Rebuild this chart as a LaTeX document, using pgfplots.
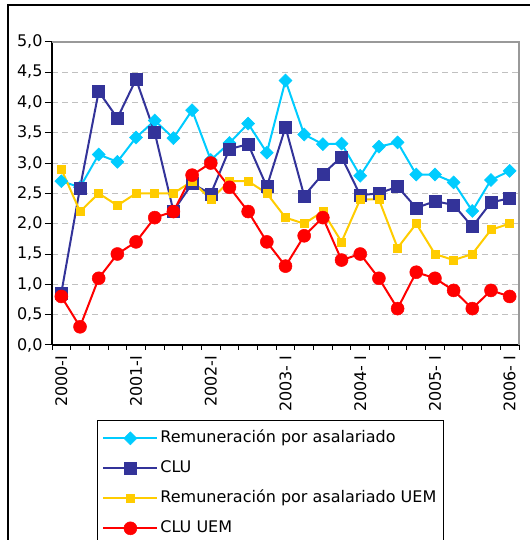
\documentclass[border=0pt]{standalone}
\usepackage{fontspec}
\setmainfont{DejaVu Sans}
\usepackage{pgfplots}
\usepackage{pgfplotstable}
\pgfplotsset{compat=1.18}
\definecolor{cyanS}{HTML}{00CCFF}
\definecolor{navyS}{HTML}{333399}
\definecolor{yellowS}{HTML}{FFCC00}
\definecolor{redS}{HTML}{FF0000}
\definecolor{frameG}{HTML}{999999}
\definecolor{gridG}{HTML}{C0C0C0}
\pgfplotstableread{
x rem clu remuem cluuem
0 2.70 0.86 2.9 0.8
1 2.60 2.59 2.2 0.3
2 3.14 4.18 2.5 1.1
3 3.02 3.74 2.3 1.5
4 3.42 4.38 2.5 1.7
5 3.70 3.50 2.5 2.1
6 3.41 2.21 2.5 2.2
7 3.87 2.66 2.7 2.8
8 3.05 2.49 2.4 3.0
9 3.33 3.23 2.7 2.6
10 3.65 3.31 2.7 2.2
11 3.17 2.61 2.5 1.7
12 4.36 3.59 2.1 1.3
13 3.47 2.46 2.0 1.8
14 3.31 2.82 2.2 2.1
15 3.32 3.10 1.7 1.4
16 2.79 2.47 2.4 1.5
17 3.27 2.50 2.4 1.1
18 3.34 2.61 1.6 0.6
19 2.81 2.26 2.0 1.2
20 2.81 2.37 1.5 1.1
21 2.68 2.31 1.4 0.9
22 2.21 1.95 1.5 0.6
23 2.72 2.35 1.9 0.9
24 2.87 2.42 2.0 0.8
}\datatable
\begin{document}
\begin{tikzpicture}[x=1pt,y=1pt]
\path[use as bounding box] (0,0) rectangle (531,540);
\draw[line width=1.3pt] (8,-10) -- (8,535) -- (530,535);
\begin{axis}[
  at={(52pt,195pt)}, anchor=south west, scale only axis,
  width=467pt, height=303.3pt,
  xmin=-0.5, xmax=24.5, ymin=0, ymax=5,
  axis lines*=left,
  axis line style={line width=1.2pt, black},
  every axis plot/.append style={line width=2pt},
  ytick={0,0.5,...,5},
  yticklabel style={font=\fontsize{16}{19}\selectfont, xshift=1pt,
    /pgf/number format/.cd, fixed, fixed zerofill, precision=1, use comma},
  /pgf/number format/assume math mode=true,
  xtick={0,4,...,24},
  xticklabels={2000-I,2001-I,2002-I,2003- I,2004- I,2005- I,2006- I},
  xticklabel style={font=\fontsize{16}{19}\selectfont, rotate=90, anchor=east},
  minor xtick={-0.5,0.5,...,24.5},
  tick align=outside,
  major x tick style={draw=none},
  minor tick length=5pt,
  major tick length=7pt,
  tick style={black, line width=1pt},
  ymajorgrids,
  major grid style={gridG, dash pattern=on 6pt off 4pt, line width=0.8pt},
  clip=false,
  legend image code/.code={\draw[mark repeat=2,mark phase=2,#1] plot coordinates {(0pt,0pt)(27pt,0pt)(54pt,0pt)};},
  legend style={at={(0.0964,-0.247)}, anchor=north west, draw=black, line width=0.8pt,
    font=\fontsize{16}{19}\selectfont, row sep=12pt, inner xsep=5pt, inner ysep=9pt,
    nodes={text height=11pt, text depth=3pt}},
  legend cell align=left,
  after end axis/.code={\draw[frameG, line width=2.2pt] (rel axis cs:0,1) -- (rel axis cs:1,1) -- (rel axis cs:1,0);},
]
\addplot[cyanS, mark=square*, mark size=4.6pt, mark options={rotate=45, line width=0.5pt}] table[x=x,y=rem] {\datatable};
\addlegendentry{Remuneración por asalariado}
\addplot[navyS, mark=square*, mark size=6pt, mark options={line width=0.5pt}] table[x=x,y=clu] {\datatable};
\addlegendentry{CLU}
\addplot[yellowS, mark=square*, mark size=4pt, mark options={line width=0.5pt}] table[x=x,y=remuem] {\datatable};
\addlegendentry{Remuneración por asalariado UEM}
\addplot[redS, mark=*, mark size=6.5pt, mark options={line width=0.5pt}] table[x=x,y=cluuem] {\datatable};
\addlegendentry{CLU UEM}
\end{axis}
\end{tikzpicture}
\end{document}
